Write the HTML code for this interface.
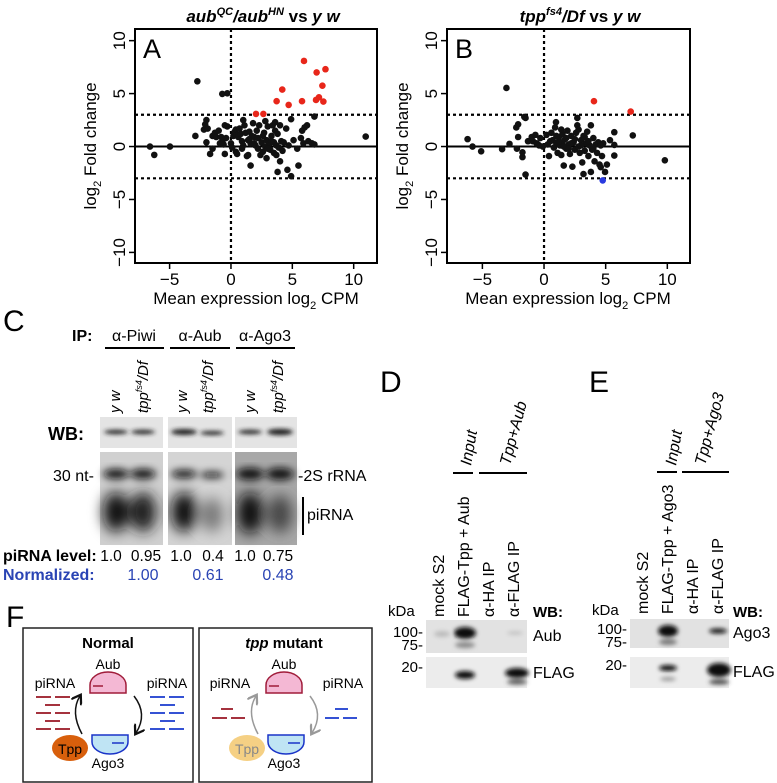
<!DOCTYPE html>
<html><head><meta charset="utf-8"><style>
html,body{margin:0;padding:0;background:#fff;}
svg{display:block;font-family:"Liberation Sans",Arial,sans-serif;}
</style></head><body>
<svg id="fig" width="777" height="783" viewBox="0 0 777 783">
<defs>
<filter id="b2" x="-50%" y="-50%" width="200%" height="200%"><feGaussianBlur stdDeviation="2"/></filter>
<filter id="b4" x="-50%" y="-50%" width="200%" height="200%"><feGaussianBlur stdDeviation="4"/></filter>
<filter id="b7" x="-50%" y="-50%" width="200%" height="200%"><feGaussianBlur stdDeviation="7"/></filter>
<marker id="arrK" markerWidth="8" markerHeight="8" refX="5" refY="4" orient="auto"><path d="M0,0 L6,4 L0,8" fill="none" stroke="#111" stroke-width="1.5"/></marker>
<marker id="arrG" markerWidth="8" markerHeight="8" refX="5" refY="4" orient="auto"><path d="M0,0 L6,4 L0,8" fill="none" stroke="#999" stroke-width="1.5"/></marker>
</defs>

<!-- Panel A -->
<g id="panelA">
<text x="263" y="22" font-size="17" font-weight="bold" text-anchor="middle"><tspan font-style="italic">aub</tspan><tspan font-style="italic" font-size="11" dy="-7">QC</tspan><tspan font-style="italic" dy="7">/aub</tspan><tspan font-style="italic" font-size="11" dy="-7">HN</tspan><tspan dy="7"> vs </tspan><tspan font-style="italic">y w</tspan></text>
<text x="143" y="58" font-size="27">A</text>
<text transform="translate(96,146) rotate(-90)" font-size="17" text-anchor="middle">log<tspan font-size="11" dy="5">2</tspan><tspan dy="-5"> Fold change</tspan></text>
<text x="256" y="304" font-size="17" text-anchor="middle">Mean expression log<tspan font-size="11" dy="5">2</tspan><tspan dy="-5"> CPM</tspan></text>
</g>

<!-- Panel B -->
<g id="panelB">
<text x="580" y="22" font-size="17" font-weight="bold" text-anchor="middle"><tspan font-style="italic">tpp</tspan><tspan font-style="italic" font-size="11" dy="-7">fs4</tspan><tspan font-style="italic" dy="7">/Df</tspan><tspan> vs </tspan><tspan font-style="italic">y w</tspan></text>
<text x="455" y="58" font-size="27">B</text>
<text transform="translate(408,146) rotate(-90)" font-size="17" text-anchor="middle">log<tspan font-size="11" dy="5">2</tspan><tspan dy="-5"> Fold change</tspan></text>
<text x="568" y="304" font-size="17" text-anchor="middle">Mean expression log<tspan font-size="11" dy="5">2</tspan><tspan dy="-5"> CPM</tspan></text>
</g>

<!-- Panel C -->
<g>
<text x="3" y="331" font-size="30">C</text>
<text x="72" y="341" font-size="16" font-weight="bold">IP:</text>
<text x="134" y="341" font-size="16" text-anchor="middle">α-Piwi</text>
<text x="200" y="341" font-size="16" text-anchor="middle">α-Aub</text>
<text x="265" y="341" font-size="16" text-anchor="middle">α-Ago3</text>
<line x1="105" y1="348" x2="164" y2="348" stroke="#000" stroke-width="2"/>
<line x1="170" y1="348" x2="230" y2="348" stroke="#000" stroke-width="2"/>
<line x1="236" y1="348" x2="295" y2="348" stroke="#000" stroke-width="2"/>
<g font-size="15" font-style="italic">
<text transform="translate(120,413) rotate(-90)">y w</text>
<text transform="translate(148,413) rotate(-90)">tpp<tspan font-size="9" dy="-6">fs4</tspan><tspan dy="6">/Df</tspan></text>
<text transform="translate(187,413) rotate(-90)">y w</text>
<text transform="translate(213,413) rotate(-90)">tpp<tspan font-size="9" dy="-6">fs4</tspan><tspan dy="6">/Df</tspan></text>
<text transform="translate(255,413) rotate(-90)">y w</text>
<text transform="translate(283,413) rotate(-90)">tpp<tspan font-size="9" dy="-6">fs4</tspan><tspan dy="6">/Df</tspan></text>
</g>
<text x="48" y="440" font-size="18" font-weight="bold">WB:</text>
<g>
<rect x="100" y="417" width="63" height="31" fill="#e4e4e4"/>
<rect x="168" y="417" width="64" height="31" fill="#e4e4e4"/>
<rect x="235" y="417" width="62" height="31" fill="#e4e4e4"/>
<g filter="url(#b2)" fill="#222">
<ellipse cx="116" cy="432" rx="12" ry="2.2"/><ellipse cx="143" cy="432" rx="12" ry="2.2"/>
<ellipse cx="184" cy="432" rx="13" ry="3"/><ellipse cx="212" cy="433" rx="12" ry="2"/>
<ellipse cx="250" cy="432" rx="12" ry="2.2"/><ellipse cx="280" cy="432" rx="13" ry="3.2"/>
</g></g>
<g>
<rect x="100" y="452" width="63" height="93" fill="#d0d0d0"/>
<rect x="168" y="452" width="64" height="93" fill="#d4d4d4"/>
<rect x="235" y="452" width="62" height="93" fill="#a8a8a8"/>
<g filter="url(#b4)" fill="#111">
<ellipse cx="116" cy="474" rx="13" ry="5"/><ellipse cx="143" cy="474" rx="13" ry="5"/>
<ellipse cx="184" cy="474" rx="13" ry="4"/><ellipse cx="212" cy="475" rx="12" ry="3"/>
<ellipse cx="250" cy="474" rx="14" ry="6"/><ellipse cx="280" cy="474" rx="14" ry="6"/>
</g>
<g filter="url(#b7)">
<ellipse cx="116" cy="512" rx="13" ry="20" fill="#111"/><ellipse cx="143" cy="512" rx="13" ry="20" fill="#1a1a1a"/>
<ellipse cx="184" cy="512" rx="13" ry="20" fill="#111"/><ellipse cx="212" cy="515" rx="11" ry="17" fill="#777"/>
<ellipse cx="250" cy="513" rx="13" ry="21" fill="#111"/><ellipse cx="280" cy="514" rx="12" ry="19" fill="#444"/>
</g>
<rect x="163" y="450" width="5" height="97" fill="#fff"/><rect x="232" y="450" width="3" height="97" fill="#fff"/>
</g>
<text x="53" y="481" font-size="16">30 nt-</text>
<text x="298" y="481" font-size="16">-2S rRNA</text>
<line x1="303" y1="497" x2="303" y2="535" stroke="#000" stroke-width="2"/>
<text x="307" y="520" font-size="16">piRNA</text>
<text x="3" y="561" font-size="16" font-weight="bold">piRNA level:</text>
<g font-size="15.5" text-anchor="middle">
<text x="111" y="561">1.0</text><text x="146" y="561">0.95</text><text x="181" y="561">1.0</text><text x="213" y="561">0.4</text><text x="245" y="561">1.0</text><text x="278" y="561">0.75</text>
</g>
<text x="3" y="580" font-size="16" font-weight="bold" fill="#2a44b4">Normalized:</text>
<g font-size="16" text-anchor="middle" fill="#2a44b4">
<text x="143" y="580">1.00</text><text x="208" y="580">0.61</text><text x="278" y="580">0.48</text>
</g>
</g>

<!-- Panel D -->
<g>
<text x="380" y="392" font-size="30">D</text>
<text transform="translate(471,466) rotate(-80)" font-size="16" font-style="italic">Input</text>
<text transform="translate(510,466) rotate(-75)" font-size="16" font-style="italic">Tpp+Aub</text>
<line x1="453" y1="473" x2="473" y2="473" stroke="#000" stroke-width="2"/>
<line x1="479" y1="473" x2="527" y2="473" stroke="#000" stroke-width="2"/>
<g font-size="16">
<text transform="translate(444,617) rotate(-90)">mock S2</text>
<text transform="translate(469,617) rotate(-90)">FLAG-Tpp + Aub</text>
<text transform="translate(494,617) rotate(-90)">α-HA IP</text>
<text transform="translate(519,617) rotate(-90)">α-FLAG IP</text>
</g>
<text x="388" y="616" font-size="15">kDa</text>
<text x="533" y="617" font-size="15" font-weight="bold">WB:</text>
<rect x="426" y="620" width="101" height="33" fill="#e2e2e2"/>
<rect x="426" y="657" width="101" height="31" fill="#ececec"/>
<g filter="url(#b2)" fill="#111">
<ellipse cx="442" cy="634" rx="8" ry="3" fill="#bbb"/>
<ellipse cx="465" cy="633" rx="11" ry="6"/><ellipse cx="465" cy="645" rx="10" ry="3" fill="#888"/>
<ellipse cx="515" cy="633" rx="8" ry="1.5" fill="#bbb"/>
<ellipse cx="465" cy="675" rx="10" ry="4"/><ellipse cx="517" cy="673" rx="12" ry="5"/><ellipse cx="517" cy="682" rx="10" ry="2.5" fill="#555"/>
</g>
<text x="423" y="637" font-size="15" text-anchor="end">100-</text>
<text x="423" y="650" font-size="15" text-anchor="end">75-</text>
<text x="423" y="672" font-size="15" text-anchor="end">20-</text>
<text x="533" y="641" font-size="16">Aub</text>
<text x="533" y="678" font-size="16">FLAG</text>
</g>

<!-- Panel E -->
<g>
<text x="589" y="392" font-size="30">E</text>
<text transform="translate(676,466) rotate(-80)" font-size="16" font-style="italic">Input</text>
<text transform="translate(705,466) rotate(-75)" font-size="16" font-style="italic">Tpp+Ago3</text>
<line x1="657" y1="472" x2="677" y2="472" stroke="#000" stroke-width="2"/>
<line x1="682" y1="472" x2="729" y2="472" stroke="#000" stroke-width="2"/>
<g font-size="16">
<text transform="translate(648,614) rotate(-90)">mock S2</text>
<text transform="translate(673,614) rotate(-90)">FLAG-Tpp + Ago3</text>
<text transform="translate(698,614) rotate(-90)">α-HA IP</text>
<text transform="translate(723,614) rotate(-90)">α-FLAG IP</text>
</g>
<text x="592" y="615" font-size="15">kDa</text>
<text x="733" y="617" font-size="15" font-weight="bold">WB:</text>
<rect x="630" y="619" width="99" height="29" fill="#e2e2e2"/>
<rect x="630" y="657" width="99" height="31" fill="#ececec"/>
<g filter="url(#b2)" fill="#111">
<ellipse cx="668" cy="631" rx="10" ry="6"/><ellipse cx="668" cy="642" rx="9" ry="3" fill="#777"/>
<ellipse cx="718" cy="631" rx="9" ry="2.5"/>
<ellipse cx="668" cy="668" rx="9" ry="3"/><ellipse cx="668" cy="679" rx="8" ry="2" fill="#999"/>
<ellipse cx="719" cy="670" rx="12" ry="7"/><ellipse cx="719" cy="682" rx="10" ry="2.5" fill="#444"/>
</g>
<text x="627" y="634" font-size="15" text-anchor="end">100-</text>
<text x="627" y="647" font-size="15" text-anchor="end">75-</text>
<text x="627" y="670" font-size="15" text-anchor="end">20-</text>
<text x="733" y="638" font-size="16">Ago3</text>
<text x="733" y="677" font-size="16">FLAG</text>
</g>

<!-- Panel F -->
<g>
<text x="6" y="627" font-size="30">F</text>
<g>
<rect x="23" y="628" width="170" height="154" fill="#fff" stroke="#222" stroke-width="1.5"/>
<text x="108" y="648" font-size="15" font-weight="bold" text-anchor="middle">Normal</text>
<text x="108" y="669" font-size="14" text-anchor="middle">Aub</text>
<path d="M90,693 L90,685 A18,13 0 0 1 126,685 L126,693 Z" fill="#f4b8d4" stroke="#a01c3a" stroke-width="1.5"/>
<line x1="93" y1="686" x2="103" y2="686" stroke="#a01c3a" stroke-width="1.5"/>
<text x="55" y="688" font-size="14" text-anchor="middle">piRNA</text>
<text x="167" y="688" font-size="14" text-anchor="middle">piRNA</text>
<g stroke="#9b1c28" stroke-width="1.8">
<line x1="36" y1="697" x2="51" y2="697"/><line x1="55" y1="697" x2="70" y2="697"/>
<line x1="45" y1="705" x2="60" y2="705"/>
<line x1="36" y1="713" x2="51" y2="713"/><line x1="55" y1="713" x2="70" y2="713"/>
<line x1="45" y1="721" x2="60" y2="721"/>
<line x1="36" y1="729" x2="51" y2="729"/><line x1="55" y1="729" x2="70" y2="729"/>
</g>
<g stroke="#1f3fd0" stroke-width="1.8">
<line x1="150" y1="697" x2="165" y2="697"/><line x1="169" y1="697" x2="184" y2="697"/>
<line x1="160" y1="705" x2="175" y2="705"/>
<line x1="150" y1="713" x2="165" y2="713"/><line x1="169" y1="713" x2="184" y2="713"/>
<line x1="160" y1="721" x2="175" y2="721"/>
<line x1="150" y1="729" x2="165" y2="729"/><line x1="169" y1="729" x2="184" y2="729"/>
</g>
<path d="M82,734 Q70,712 80,696" fill="none" stroke="#111" stroke-width="1.5" marker-end="url(#arrK)"/>
<path d="M134,696 Q148,714 136,733" fill="none" stroke="#111" stroke-width="1.5" marker-end="url(#arrK)"/>
<path d="M92,735 L92,742 A18,12 0 0 0 128,742 L128,735 Z" fill="#bfe4f4" stroke="#1a34c8" stroke-width="1.5"/>
<line x1="112" y1="743" x2="124" y2="743" stroke="#1a34c8" stroke-width="1.5"/>
<ellipse cx="70" cy="748" rx="18" ry="13" fill="#d85f0c"/>
<text x="70" y="754" font-size="14" text-anchor="middle">Tpp</text>
<text x="108" y="768" font-size="14" text-anchor="middle">Ago3</text>
</g>
<g>
<rect x="199" y="628" width="173" height="154" fill="#fff" stroke="#222" stroke-width="1.5"/>
<text x="284" y="648" font-size="15" font-weight="bold" text-anchor="middle"><tspan font-style="italic">tpp</tspan> mutant</text>
<text x="284" y="669" font-size="14" text-anchor="middle">Aub</text>
<path d="M266,693 L266,685 A18,13 0 0 1 302,685 L302,693 Z" fill="#f4b8d4" stroke="#a01c3a" stroke-width="1.5"/>
<line x1="269" y1="686" x2="279" y2="686" stroke="#a01c3a" stroke-width="1.5"/>
<text x="230" y="688" font-size="14" text-anchor="middle">piRNA</text>
<text x="343" y="688" font-size="14" text-anchor="middle">piRNA</text>
<g stroke="#9b1c28" stroke-width="1.8">
<line x1="221" y1="709" x2="233" y2="709"/>
<line x1="212" y1="718" x2="227" y2="718"/><line x1="231" y1="718" x2="245" y2="718"/>
</g>
<g stroke="#1f3fd0" stroke-width="1.8">
<line x1="335" y1="709" x2="348" y2="709"/>
<line x1="325" y1="718" x2="339" y2="718"/><line x1="343" y1="718" x2="357" y2="718"/>
</g>
<path d="M258,734 Q246,712 256,696" fill="none" stroke="#999" stroke-width="1.5" marker-end="url(#arrG)"/>
<path d="M310,696 Q324,714 312,733" fill="none" stroke="#999" stroke-width="1.5" marker-end="url(#arrG)"/>
<path d="M268,735 L268,742 A18,12 0 0 0 304,742 L304,735 Z" fill="#bfe4f4" stroke="#1a34c8" stroke-width="1.5"/>
<line x1="288" y1="743" x2="300" y2="743" stroke="#1a34c8" stroke-width="1.5"/>
<ellipse cx="247" cy="748" rx="18" ry="13" fill="#f5d084"/>
<text x="247" y="754" font-size="14" text-anchor="middle" fill="#888">Tpp</text>
<text x="284" y="768" font-size="14" text-anchor="middle">Ago3</text>
</g>
</g>
</svg>
<script>
const xTicks = [-5, 0, 5, 10];
const yTicks = [-10, -5, 0, 5, 10];
const aBlack = [[-2.74,6.16],[-0.71,4.97],[-0.3,5.03],[10.98,0.94],[-6.6,0],[-6.25,-0.79],[-4.97,0],[6.8,2.83],[4.9,2.58],
[-2.9,1.0],[-2.2,1.6],[-2.0,2.5],[-2.1,2.1],[-1.9,1.7],[-2.0,0.4],[-1.7,-0.7],[-1.5,1.0],[-1.3,1.3],[-1.2,0.9],[-1.5,-0.2],[-1.0,1.5],[-0.8,0.9],[-0.7,0.5],[-0.6,0.2],[-0.5,2.0],[-0.5,-0.7],[-0.3,1.9],[-0.9,0.3],[-0.4,0.8],[0.2,1.0],[0.3,1.4],[0.4,1.6],[0.5,1.1],[0.6,0.9],[0.4,-0.5],[0.5,-0.7],[0.7,1.7],[0.8,1.2],[0.9,0.5],[1.0,2.5],[1.1,2.0],[1.0,0.1],[1.2,1.3],[1.3,-0.9],[1.4,-0.8],[1.5,1.4],[1.5,0.7],[1.6,0.3],[1.7,1.0],[1.6,-1.8],[1.8,2.2],[1.9,0.9],[2.0,0.1],[2.1,1.5],[2.2,-0.2],[2.3,2.0],[2.4,-0.8],[2.5,0.4],[2.6,-0.5],[2.7,1.3],[2.8,2.4],[2.9,-1.1],[2.9,0.6],[3.0,1.9],[3.1,0.2],[3.2,-0.3],[3.3,1.0],[3.4,2.0],[3.5,0.4],[3.5,-0.6],[3.6,2.3],[3.6,1.5],[3.7,0.1],[3.7,-0.8],[3.8,1.2],[3.8,-2.4],[3.9,-0.1],[4.0,-1.4],[4.0,2.0],[4.1,0.5],[4.2,-0.4],[4.3,0.4],[4.5,1.7],[4.6,-2.2],[4.7,0.1],[4.9,-2.8],[5.1,0.6],[5.4,-0.2],[5.5,-1.8],[5.7,0.8],[5.8,1.5],[5.9,0.3],[6.0,1.8],[6.2,2.0],[6.3,0.5],[6.6,0.3],[6.8,0.2],[0.0,0.3],[0.1,-0.1],[1.9,0.3],[2.2,0.8],[2.8,0.0],[3.3,0.5],[3.0,-0.2],[1.4,0.6],[2.6,1.0],[0.9,-0.2]];
const aRed = [[5.95,8.08],[6.98,7.0],[7.7,7.3],[4.18,5.38],[7.45,5.75],[3.72,4.28],[4.7,3.93],[5.79,4.28],[6.93,4.4],[7.17,4.65],[7.53,4.25],[2.04,3.08],[2.64,3.08]];
const aBlue = [];
const bBlack = [[-3.05,5.53],[-6.2,0.7],[-5.8,0],[-5.1,-0.45],[-3.4,-0.25],[-2.8,0.25],[-1.6,2.8],[-1.5,2.7],[-2.25,1.8],[-2.1,2.1],[-2.1,0.9],[-2.2,-0.2],[-1.75,-0.55],[-1.75,-1.0],[-1.5,-2.65],[9.8,-1.3],[7.2,1.05],[5.7,0.15],[5.7,-0.85],[5.7,1.35],[5.35,0.6],[3.2,-2.6],[3.8,-2.4],[4.95,-2.4],[5.1,-1.7],[4.6,-1.95],[2.7,2.7],[0.97,2.3],
[-1.3,0.5],[-1.0,0.9],[-0.9,0.5],[-0.7,1.1],[-0.6,0.3],[-0.4,0.1],[-0.3,0.8],[-0.1,0.0],[0.2,1.1],[0.3,0.2],[0.4,-0.9],[0.6,1.3],[0.7,0.6],[0.8,-0.1],[0.9,1.8],[1.0,0.3],[1.1,-0.6],[1.2,0.9],[1.3,0.1],[1.4,-0.8],[1.5,1.2],[1.5,0.4],[1.6,-1.8],[1.7,0.7],[1.8,-0.2],[1.9,1.5],[2.0,0.2],[2.1,-0.7],[2.2,1.0],[2.3,-1.9],[2.4,0.4],[2.5,-0.3],[2.6,1.3],[2.7,2.0],[2.8,0.0],[2.9,-0.6],[3.0,0.6],[3.1,-1.5],[3.2,1.0],[3.3,-0.4],[3.4,0.3],[3.5,1.4],[3.6,-0.9],[3.7,0.1],[3.8,2.0],[3.9,-0.3],[4.0,0.8],[4.1,-1.4],[4.2,0.2],[4.3,-0.6],[4.4,0.4],[4.5,-1.7],[4.6,0.1],[4.7,-0.9],[4.8,0.3],[1.2,0.5],[1.8,0.8],[2.5,0.7],[3.0,0.1],[1.6,0.0],[2.2,0.3],[3.6,0.5],[0.5,0.5],[-0.5,0.2],[2.0,-0.2],[1.0,1.0],[3.3,0.9],[4.0,-0.2],[2.8,1.6],[1.4,1.6]];
const bRed = [[4.05,4.28],[7.03,3.3]];
const bBlue = [[4.76,-3.2]];
const thresholds = [3, -3];

const NS = 'http://www.w3.org/2000/svg';
function mk(tag, attrs, parent){const e=document.createElementNS(NS,tag);for(const k in attrs)e.setAttribute(k,attrs[k]);parent.appendChild(e);return e;}

function drawPanel(gid, box, black, red, blue){
  const g = document.getElementById(gid);
  const sx = v => box.x0 + (v - box.xmin) * box.w / (box.xmax - box.xmin);
  const sy = v => box.y0 + (box.ymax - v) * box.h / (box.ymax - box.ymin);
  const v0 = mk('line',{x1:sx(0),x2:sx(0),y1:box.y0,y2:box.y0+box.h,stroke:'#000','stroke-width':2.2,'stroke-dasharray':'3,3'},g);
  
  
  const h0 = mk('line',{x1:box.x0,x2:box.x0+box.w,y1:sy(0),y2:sy(0),stroke:'#000','stroke-width':2},g);
  
  
  thresholds.forEach(t=>{
    const l = mk('line',{x1:box.x0,x2:box.x0+box.w,y1:sy(t),y2:sy(t),stroke:'#000','stroke-width':2.2,'stroke-dasharray':'3,3'},g);
    
    
  });
  const groups = [[black,'#111'],[red,'#e8261a'],[blue,'#2a3ae0']];
  groups.forEach(([arr,col])=>arr.forEach(p=>{
    const c = mk('circle',{cx:sx(p[0]),cy:sy(p[1]),r:3.3,fill:col},g);
    
    
  }));
  const frame = mk('rect',{x:box.x0,y:box.y0,width:box.w,height:box.h,fill:'none',stroke:'#000','stroke-width':2},g);
  
  
  xTicks.forEach(t=>{
    mk('line',{x1:sx(t),x2:sx(t),y1:box.y0+box.h,y2:box.y0+box.h+6,stroke:'#000','stroke-width':1.5},g);
    const tx = mk('text',{x:sx(t),y:box.y0+box.h+22,'font-size':17,'text-anchor':'middle'},g);
    tx.textContent = t<0 ? '\u2212'+(-t) : String(t);
    
    
  });
  yTicks.forEach(t=>{
    mk('line',{x1:box.x0-6,x2:box.x0,y1:sy(t),y2:sy(t),stroke:'#000','stroke-width':1.5},g);
    const ty = mk('text',{transform:`translate(${box.x0-10},${sy(t)}) rotate(-90)`,'font-size':17,'text-anchor':'middle'},g);
    ty.textContent = t<0 ? '\u2212'+(-t) : String(t);
    
    
  });
}
drawPanel('panelA', {x0:135,y0:29,w:242,h:234,xmin:-7.82,xmax:11.9,ymin:-11.0,ymax:11.1}, aBlack, aRed, aBlue);
drawPanel('panelB', {x0:447,y0:29,w:243,h:234,xmin:-7.87,xmax:11.84,ymin:-11.0,ymax:11.1}, bBlack, bRed, bBlue);
</script>
</body></html>
